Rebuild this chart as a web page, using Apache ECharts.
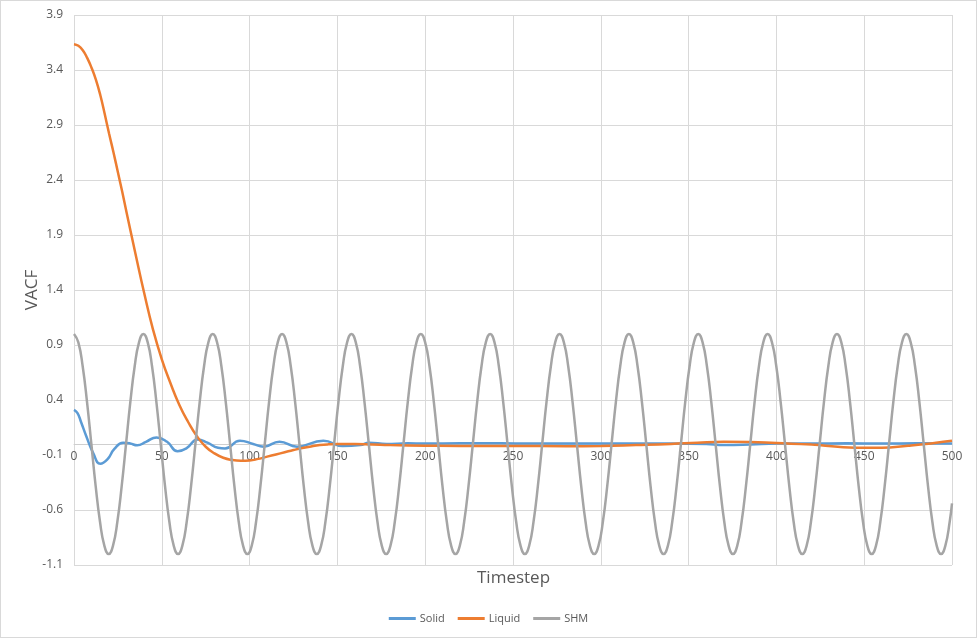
<!DOCTYPE html>
<html><head><meta charset="utf-8">
<script src="https://cdn.jsdelivr.net/npm/echarts@6/dist/echarts.min.js"></script>
<style>
html,body{margin:0;padding:0;background:#fff}
#wrap{position:relative;width:977px;height:638px}
#c{position:absolute;left:0;top:0;width:977px;height:638px}
#frame{position:absolute;left:0;top:0;width:977px;height:638px;box-sizing:border-box;border:1px solid #d9d9d9;pointer-events:none}
</style>
</head><body><div id="wrap"><div id="c"></div><div id="frame"></div></div>
<script>
const seriesNames = ['Solid', 'Liquid', 'SHM'];
const xTicks = { min: 0, max: 500, step: 50 };
const yTicks = { min: -1.1, max: 3.9, step: 0.5 };

const solidT = [0,2,4,7,11,15,19,23,28,32,36,41,47,53,59,64,70.5,76,82,86,94.5,102,108,117,127,142,153,163,168,178,190,200,220,243,260,300,340,360,370,385,400,420,440,460,480,500];
const solidV = [0.31,0.28,0.2,0.07,-0.085,-0.18,-0.14,-0.045,0.012,0.005,-0.012,0.02,0.06,0.02,-0.066,-0.04,0.042,0.012,-0.035,-0.04,0.03,0.0,-0.024,0.021,-0.024,0.03,-0.018,-0.01,0.012,0.0,0.006,0.004,0.006,0.006,0.004,0.005,0.005,0.0,-0.01,-0.005,0.005,0.005,0.006,0.004,0.006,0.005];

const liquidT = [0,2.5,5,7.5,10,12.5,15,17.5,20,22.5,25,27.5,30,35,40,45,50,55,60,65,70,75,80,85,90,95,100,105,110,115,120,125,130,135,140,145,150,160,170,180,200,220,250,280,300,320,340,355,370,385,400,420,435,445,460,475,485,495,500];
const liquidV = [3.635,3.62,3.58,3.51,3.42,3.31,3.17,3.0,2.82,2.65,2.47,2.29,2.1,1.73,1.37,1.04,0.77,0.55,0.355,0.2,0.07,-0.025,-0.085,-0.125,-0.145,-0.152,-0.15,-0.135,-0.115,-0.095,-0.075,-0.055,-0.037,-0.022,-0.01,-0.003,0.0,0.0,-0.005,-0.01,-0.015,-0.018,-0.018,-0.02,-0.018,-0.01,0.0,0.012,0.02,0.018,0.008,-0.005,-0.025,-0.033,-0.033,-0.015,0.0,0.02,0.03];

const shmT = [
 0,2.47,4.94,7.41,9.88,12.34,14.81,17.28,19.75,22.22,24.69,27.16,29.63,32.09,34.56,37.03,
 39.5,41.97,44.44,46.91,49.38,51.84,54.31,56.78,59.25,61.72,64.19,66.66,69.13,71.59,74.06,76.53,
 79,81.47,83.94,86.41,88.88,91.34,93.81,96.28,98.75,101.22,103.69,106.16,108.63,111.09,113.56,116.03,
 118.5,120.97,123.44,125.91,128.38,130.84,133.31,135.78,138.25,140.72,143.19,145.66,148.13,150.59,153.06,155.53,
 158,160.47,162.94,165.41,167.88,170.34,172.81,175.28,177.75,180.22,182.69,185.16,187.63,190.09,192.56,195.03,
 197.5,199.97,202.44,204.91,207.38,209.84,212.31,214.78,217.25,219.72,222.19,224.66,227.13,229.59,232.06,234.53,
 237,239.47,241.94,244.41,246.88,249.34,251.81,254.28,256.75,259.22,261.69,264.16,266.63,269.09,271.56,274.03,
 276.5,278.97,281.44,283.91,286.38,288.84,291.31,293.78,296.25,298.72,301.19,303.66,306.13,308.59,311.06,313.53,
 316,318.47,320.94,323.41,325.88,328.34,330.81,333.28,335.75,338.22,340.69,343.16,345.63,348.09,350.56,353.03,
 355.5,357.97,360.44,362.91,365.38,367.84,370.31,372.78,375.25,377.72,380.19,382.66,385.13,387.59,390.06,392.53,
 395,397.47,399.94,402.41,404.88,407.34,409.81,412.28,414.75,417.22,419.69,422.16,424.63,427.09,429.56,432.03,
 434.5,436.97,439.44,441.91,444.38,446.84,449.31,451.78,454.25,456.72,459.19,461.66,464.13,466.59,469.06,471.53,
 474,476.47,478.94,481.41,483.88,486.34,488.81,491.28,493.75,496.22,498.69,500];
const shmV = [
 1,0.924,0.707,0.383,0,-0.383,-0.707,-0.924,-1,-0.924,-0.707,-0.383,0,0.383,0.707,0.924,
 1,0.924,0.707,0.383,0,-0.383,-0.707,-0.924,-1,-0.924,-0.707,-0.383,0,0.383,0.707,0.924,
 1,0.924,0.707,0.383,0,-0.383,-0.707,-0.924,-1,-0.924,-0.707,-0.383,0,0.383,0.707,0.924,
 1,0.924,0.707,0.383,0,-0.383,-0.707,-0.924,-1,-0.924,-0.707,-0.383,0,0.383,0.707,0.924,
 1,0.924,0.707,0.383,0,-0.383,-0.707,-0.924,-1,-0.924,-0.707,-0.383,0,0.383,0.707,0.924,
 1,0.924,0.707,0.383,0,-0.383,-0.707,-0.924,-1,-0.924,-0.707,-0.383,0,0.383,0.707,0.924,
 1,0.924,0.707,0.383,0,-0.383,-0.707,-0.924,-1,-0.924,-0.707,-0.383,0,0.383,0.707,0.924,
 1,0.924,0.707,0.383,0,-0.383,-0.707,-0.924,-1,-0.924,-0.707,-0.383,0,0.383,0.707,0.924,
 1,0.924,0.707,0.383,0,-0.383,-0.707,-0.924,-1,-0.924,-0.707,-0.383,0,0.383,0.707,0.924,
 1,0.924,0.707,0.383,0,-0.383,-0.707,-0.924,-1,-0.924,-0.707,-0.383,0,0.383,0.707,0.924,
 1,0.924,0.707,0.383,0,-0.383,-0.707,-0.924,-1,-0.924,-0.707,-0.383,0,0.383,0.707,0.924,
 1,0.924,0.707,0.383,0,-0.383,-0.707,-0.924,-1,-0.924,-0.707,-0.383,0,0.383,0.707,0.924,
 1,0.924,0.707,0.383,0,-0.383,-0.707,-0.924,-1,-0.924,-0.707,-0.54];

const colors = ['#5b9bd5', '#ed7d31', '#a5a5a5'];
const FONT = 'Open Sans';
const zip = (t, v) => t.map((x, i) => [x, v[i]]);

// gridline colours: the line at -0.1 is not drawn in the reference
const nY = Math.round((yTicks.max - yTicks.min) / yTicks.step) + 1;
const gridColors = [];
for (let i = 0; i < nY; i++) {
  const val = yTicks.min + i * yTicks.step;
  gridColors.push(Math.abs(val + 0.1) < 1e-6 ? 'rgba(0,0,0,0)' : '#d9d9d9');
}

// layout of the plot area
const W = 977, H = 638;
const plot = { left: 74, right: 25, top: 15, bottom: 73 };
const plotH = H - plot.top - plot.bottom;
// pixel row of value 0 on the y scale (where the horizontal axis crosses)
const zeroY = plot.top + (yTicks.max - 0) / (yTicks.max - yTicks.min) * plotH;

const chart = echarts.init(document.getElementById('c'), null, { renderer: 'canvas' });
const mk = (name, t, v, c) => ({
  name, type: 'line', data: zip(t, v), smooth: true, showSymbol: false,
  xAxisIndex: 0, yAxisIndex: 0,
  lineStyle: { color: c, width: 2.5 }, itemStyle: { color: c }
});
chart.setOption({
  animation: false,
  textStyle: { fontFamily: FONT },
  grid: [
    { left: plot.left, right: plot.right, top: plot.top, bottom: plot.bottom, containLabel: false },
    { left: plot.left, right: plot.right, top: plot.top, bottom: H - zeroY, containLabel: false }
  ],
  xAxis: [{
    gridIndex: 0, type: 'value', min: xTicks.min, max: xTicks.max, interval: xTicks.step,
    axisLine: { show: false }, axisTick: { show: false }, axisLabel: { show: false },
    splitLine: { show: true, lineStyle: { color: '#d9d9d9', width: 1 } }
  }, {
    gridIndex: 1, type: 'value', min: xTicks.min, max: xTicks.max, interval: xTicks.step,
    position: 'bottom',
    axisLine: { show: true, onZero: false, lineStyle: { color: '#cfcfcf', width: 1 } },
    axisTick: { show: false },
    axisLabel: { color: '#595959', fontSize: 12, margin: 7, fontFamily: FONT },
    splitLine: { show: false }
  }],
  yAxis: [{
    gridIndex: 0, type: 'value', min: yTicks.min, max: yTicks.max, interval: yTicks.step,
    name: 'VACF', nameLocation: 'middle', nameGap: 33, nameMoveOverlap: false,
    nameTextStyle: { color: '#595959', fontSize: 17, fontFamily: FONT },
    axisLine: { show: false, onZero: false }, axisTick: { show: false },
    axisLabel: { color: '#595959', fontSize: 12, margin: 11, fontFamily: FONT,
      formatter: v => (Math.round(v * 10) / 10).toFixed(1) },
    splitLine: { show: true, lineStyle: { color: gridColors, width: 1 } }
  }, {
    gridIndex: 1, type: 'value', min: 0, max: 1, show: false,
    axisLine: { show: false, onZero: false }, splitLine: { show: false }
  }],
  legend: {
    data: seriesNames, left: 'center', top: 608, icon: 'rect',
    itemWidth: 27, itemHeight: 3, itemGap: 13,
    textStyle: { color: '#595959', fontSize: 11, fontFamily: FONT, padding: [0, 0, 0, -1] }
  },
  graphic: [{
    type: 'text', left: 513 - 36, top: 570,
    style: { text: 'Timestep', fill: '#595959', font: '17px "Open Sans"' }
  }],
  series: [
    mk(seriesNames[0], solidT, solidV, colors[0]),
    mk(seriesNames[1], liquidT, liquidV, colors[1]),
    mk(seriesNames[2], shmT, shmV, colors[2])
  ]
});
</script></body></html>
